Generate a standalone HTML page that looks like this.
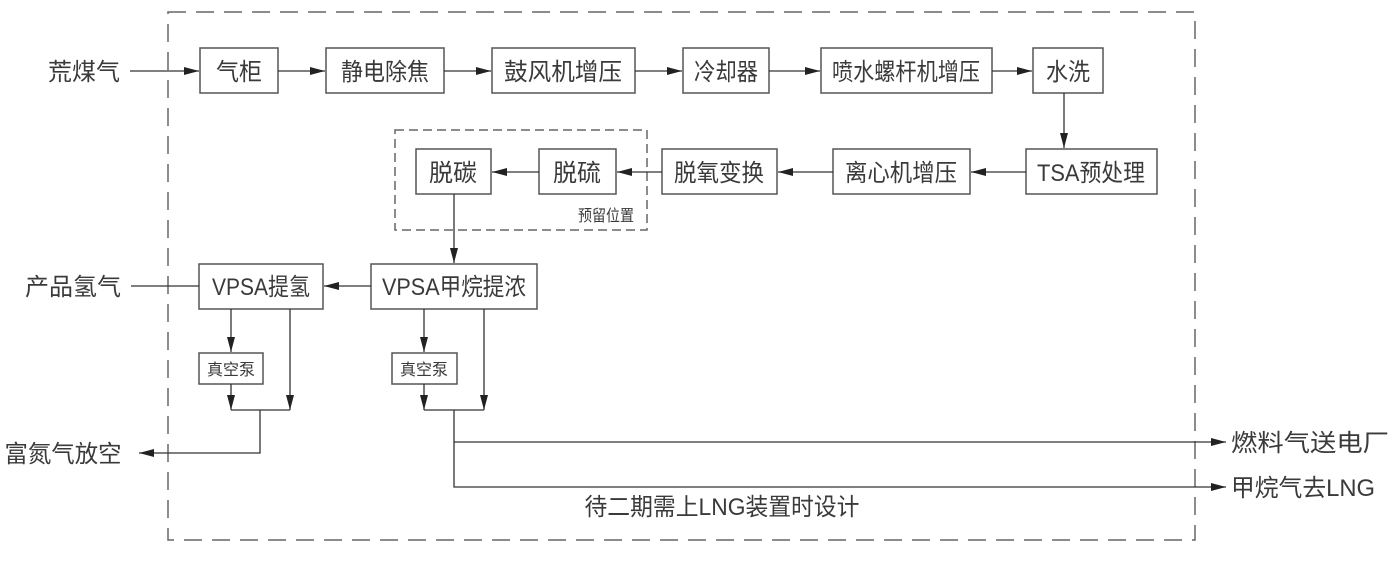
<!DOCTYPE html>
<html><head><meta charset="utf-8"><style>
html,body{margin:0;padding:0;background:#fff;}
svg{display:block;}
text{font-family:"Liberation Sans","Noto Sans CJK SC",sans-serif;fill:#3a3a3a;}
</style></head><body>
<svg width="1397" height="562" viewBox="0 0 1397 562" xmlns="http://www.w3.org/2000/svg">
<defs>
<marker id="a" markerWidth="16" markerHeight="10" refX="15" refY="5" orient="auto" markerUnits="userSpaceOnUse">
<path d="M0,1 L15,5 L0,9 Z" fill="#222"/>
</marker>
</defs>
<g fill="none" stroke="#666" stroke-width="1.5">
<rect x="168" y="12" width="1027" height="528" stroke-dasharray="18,10"/>
<rect x="395" y="130" width="252" height="100" stroke-dasharray="9,5"/>
</g>
<g fill="#fff" stroke="#555" stroke-width="1.5">
<rect x="200" y="48" width="78" height="45"/>
<rect x="326" y="48" width="118" height="45"/>
<rect x="492" y="48" width="143" height="45"/>
<rect x="683" y="48" width="86" height="45"/>
<rect x="821" y="48" width="171" height="45"/>
<rect x="1033" y="48" width="70" height="45"/>
<rect x="1026" y="149" width="131" height="45"/>
<rect x="833" y="149" width="137" height="45"/>
<rect x="662" y="149" width="115" height="45"/>
<rect x="539" y="149" width="77" height="45"/>
<rect x="416" y="149" width="75" height="45"/>
<rect x="199" y="264" width="124" height="45"/>
<rect x="371" y="264" width="166" height="45"/>
<rect x="199" y="353" width="64" height="31"/>
<rect x="392" y="353" width="65" height="31"/>
</g>
<g stroke="#333" stroke-width="1.3" fill="none">
<line x1="130" y1="71" x2="199" y2="71" marker-end="url(#a)"/>
<line x1="278" y1="71" x2="325" y2="71" marker-end="url(#a)"/>
<line x1="444" y1="71" x2="491" y2="71" marker-end="url(#a)"/>
<line x1="635" y1="71" x2="682" y2="71" marker-end="url(#a)"/>
<line x1="769" y1="71" x2="820" y2="71" marker-end="url(#a)"/>
<line x1="992" y1="71" x2="1032" y2="71" marker-end="url(#a)"/>
<line x1="1064" y1="93" x2="1064" y2="148" marker-end="url(#a)"/>
<line x1="1026" y1="172" x2="971" y2="172" marker-end="url(#a)"/>
<line x1="833" y1="172" x2="778" y2="172" marker-end="url(#a)"/>
<line x1="662" y1="172" x2="617" y2="172" marker-end="url(#a)"/>
<line x1="539" y1="172" x2="492" y2="172" marker-end="url(#a)"/>
<line x1="454" y1="194" x2="454" y2="263" marker-end="url(#a)"/>
<line x1="371" y1="286" x2="324" y2="286" marker-end="url(#a)"/>
<line x1="131" y1="286" x2="199" y2="286"/>
<line x1="231" y1="309" x2="231" y2="352" marker-end="url(#a)"/>
<line x1="231" y1="384" x2="231" y2="410" marker-end="url(#a)"/>
<line x1="290" y1="309" x2="290" y2="410" marker-end="url(#a)"/>
<polyline points="231,410 290,410"/>
<polyline points="260,410 260,453 139,453" marker-end="url(#a)"/>
<line x1="424" y1="309" x2="424" y2="352" marker-end="url(#a)"/>
<line x1="424" y1="384" x2="424" y2="410" marker-end="url(#a)"/>
<line x1="484" y1="309" x2="484" y2="410" marker-end="url(#a)"/>
<polyline points="424,410 484,410"/>
<polyline points="454,410 454,442 1226,442" marker-end="url(#a)"/>
<polyline points="454,442 454,487 1226,487" marker-end="url(#a)"/>
</g>
<g font-size="24" text-anchor="middle">
<text x="84" y="80" textLength="72" lengthAdjust="spacingAndGlyphs">荒煤气</text>
<text x="239" y="80" textLength="46" lengthAdjust="spacingAndGlyphs">气柜</text>
<text x="385" y="80" textLength="88" lengthAdjust="spacingAndGlyphs">静电除焦</text>
<text x="563" y="80" textLength="118" lengthAdjust="spacingAndGlyphs">鼓风机增压</text>
<text x="726" y="80" textLength="64" lengthAdjust="spacingAndGlyphs">冷却器</text>
<text x="906" y="80" textLength="148" lengthAdjust="spacingAndGlyphs">喷水螺杆机增压</text>
<text x="1068" y="80" textLength="44" lengthAdjust="spacingAndGlyphs">水洗</text>
<text x="1091" y="181" textLength="108" lengthAdjust="spacingAndGlyphs">TSA预处理</text>
<text x="901" y="181" textLength="112" lengthAdjust="spacingAndGlyphs">离心机增压</text>
<text x="719" y="181" textLength="90" lengthAdjust="spacingAndGlyphs">脱氧变换</text>
<text x="577" y="181" textLength="48" lengthAdjust="spacingAndGlyphs">脱硫</text>
<text x="453" y="181" textLength="48" lengthAdjust="spacingAndGlyphs">脱碳</text>
<text x="261" y="295" textLength="98" lengthAdjust="spacingAndGlyphs">VPSA提氢</text>
<text x="454" y="295" textLength="144" lengthAdjust="spacingAndGlyphs">VPSA甲烷提浓</text>
<text x="73" y="295" textLength="96" lengthAdjust="spacingAndGlyphs">产品氢气</text>
<text x="63" y="462" textLength="117" lengthAdjust="spacingAndGlyphs">富氮气放空</text>
<text x="1310" y="451" textLength="158" lengthAdjust="spacingAndGlyphs">燃料气送电厂</text>
<text x="1303" y="496" textLength="144" lengthAdjust="spacingAndGlyphs">甲烷气去LNG</text>
<text x="722" y="515" textLength="275" lengthAdjust="spacingAndGlyphs">待二期需上LNG装置时设计</text>
</g>
<g font-size="16" text-anchor="middle">
<text x="231" y="375" textLength="48" lengthAdjust="spacingAndGlyphs">真空泵</text>
<text x="424" y="375" textLength="48" lengthAdjust="spacingAndGlyphs">真空泵</text>
<text x="606" y="221" textLength="56" lengthAdjust="spacingAndGlyphs">预留位置</text>
</g>
</svg>
</body></html>
